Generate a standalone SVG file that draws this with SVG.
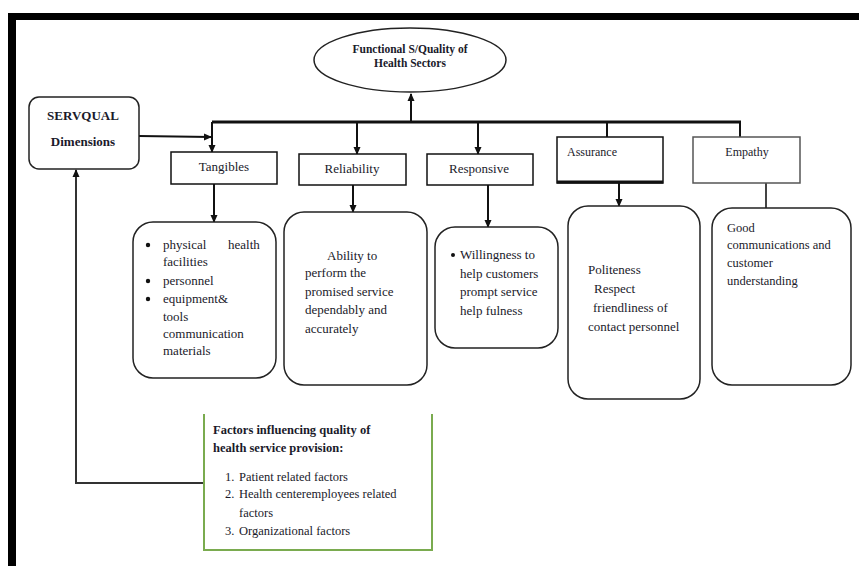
<svg xmlns="http://www.w3.org/2000/svg" width="859" height="566" viewBox="0 0 859 566">
<style>
text{font-family:"Liberation Serif","Times New Roman",serif;fill:#1a1a2a;}
.b{font-weight:bold;}
.t13{font-size:13px;}
.t12{font-size:12px;}
.box{fill:#fff;stroke:#111;stroke-width:1.5;}
.rbox{fill:#fff;stroke:#222;stroke-width:1.5;}
.ln{fill:none;stroke:#111;stroke-width:2;}
.dot{fill:#111;}
</style>
<defs>
<marker id="ah" markerUnits="userSpaceOnUse" markerWidth="8" markerHeight="8" refX="7" refY="4" orient="auto">
<path d="M0,0.5 L8,4 L0,7.5 Z" fill="#111"/>
</marker>
</defs>
<rect x="0" y="0" width="859" height="566" fill="#fff"/>
<g id="frame">
<rect x="8" y="13" width="851" height="7" fill="#000"/>
<rect x="8" y="13" width="8" height="553" fill="#000"/>
</g>
<g id="connectors">
<line x1="212" y1="122" x2="741" y2="122" stroke="#111" stroke-width="3"/>
<line class="ln" x1="411" y1="122" x2="411" y2="94" marker-end="url(#ah)"/>
<line class="ln" x1="212" y1="122" x2="212" y2="152" marker-end="url(#ah)"/>
<line class="ln" x1="357" y1="122" x2="357" y2="154" marker-end="url(#ah)"/>
<line class="ln" x1="478" y1="122" x2="478" y2="154" marker-end="url(#ah)"/>
<line class="ln" x1="607" y1="122" x2="607" y2="137"/>
<line class="ln" x1="740" y1="122" x2="740" y2="137"/>
<line class="ln" x1="139" y1="136" x2="211" y2="137" marker-end="url(#ah)"/>
<line class="ln" x1="214" y1="184" x2="214" y2="222" marker-end="url(#ah)"/>
<line class="ln" x1="353" y1="185" x2="353" y2="212" marker-end="url(#ah)"/>
<line class="ln" x1="488" y1="185" x2="488" y2="227" marker-end="url(#ah)"/>
<line class="ln" x1="619" y1="183" x2="619" y2="206" marker-end="url(#ah)"/>
<line x1="766" y1="183" x2="766" y2="208" stroke="#444" stroke-width="2"/>
<polyline points="204,483 76,483 76,170" fill="none" stroke="#333" stroke-width="2" marker-end="url(#ah)"/>
</g>
<g id="functional">
<ellipse cx="410" cy="60" rx="96" ry="32" fill="#fff" stroke="#222" stroke-width="1.5"/>
<text class="b" font-size="11.5" x="410" y="53" text-anchor="middle">Functional S/Quality of</text>
<text class="b" font-size="11.5" x="410" y="67" text-anchor="middle">Health Sectors</text>
</g>
<g id="servqual">
<rect class="rbox" x="29" y="97" width="110" height="72" rx="10"/>
<text class="b t13" x="83" y="120" text-anchor="middle">SERVQUAL</text>
<text class="b t13" x="83" y="146" text-anchor="middle">Dimensions</text>
</g>
<g id="tangibles">
<rect class="box" x="171" y="152" width="106" height="32"/>
<text class="t13" x="224" y="171" text-anchor="middle">Tangibles</text>
</g>
<g id="reliability">
<rect class="box" x="299" y="154" width="107" height="31"/>
<text class="t13" x="352" y="173" text-anchor="middle">Reliability</text>
</g>
<g id="responsive">
<rect class="box" x="427" y="154" width="106" height="31"/>
<text class="t13" x="479" y="173" text-anchor="middle">Responsive</text>
</g>
<g id="assurance">
<rect class="box" x="557" y="137" width="106" height="46"/>
<line x1="557" y1="182" x2="663" y2="182" stroke="#111" stroke-width="3"/>
<text class="t12" x="567" y="156">Assurance</text>
</g>
<g id="empathy">
<rect x="693" y="137" width="107" height="46" fill="#fff" stroke="#555" stroke-width="1.5"/>
<text class="t12" x="747" y="156" text-anchor="middle">Empathy</text>
</g>
<g id="tangibles-detail">
<rect class="rbox" x="133" y="222" width="143" height="156" rx="20"/>
<circle class="dot" cx="148" cy="245" r="2.2"/>
<text class="t13" x="163" y="249">physical</text>
<text class="t13" x="228" y="249">health</text>
<text class="t13" x="163" y="266">facilities</text>
<circle class="dot" cx="148" cy="281" r="2.2"/>
<text class="t13" x="163" y="285">personnel</text>
<circle class="dot" cx="148" cy="299" r="2.2"/>
<text class="t13" x="163" y="303">equipment&amp;</text>
<text class="t13" x="163" y="321">tools</text>
<text class="t13" x="163" y="338">communication</text>
<text class="t13" x="163" y="355">materials</text>
</g>
<g id="reliability-detail">
<rect class="rbox" x="284" y="212" width="143" height="173" rx="20"/>
<text class="t13" x="327" y="260">Ability to</text>
<text class="t13" x="305" y="277">perform the</text>
<text class="t13" x="305" y="296">promised service</text>
<text class="t13" x="305" y="314">dependably and</text>
<text class="t13" x="305" y="333">accurately</text>
</g>
<g id="responsive-detail">
<rect class="rbox" x="435" y="227" width="123" height="121" rx="20"/>
<circle class="dot" cx="453" cy="255" r="2"/>
<text class="t13" x="460" y="259">Willingness to</text>
<text class="t13" x="460" y="278">help customers</text>
<text class="t13" x="460" y="296">prompt service</text>
<text class="t13" x="460" y="315">help fulness</text>
</g>
<g id="assurance-detail">
<rect class="rbox" x="568" y="206" width="132" height="193" rx="20"/>
<text class="t13" x="588" y="274">Politeness</text>
<text class="t13" x="594" y="293">Respect</text>
<text class="t13" x="593" y="312">friendliness of</text>
<text class="t13" x="588" y="331">contact personnel</text>
</g>
<g id="empathy-detail">
<rect class="rbox" x="712" y="208" width="139" height="177" rx="20"/>
<text font-size="12.5" x="727" y="232">Good</text>
<text font-size="12.5" x="727" y="249">communications and</text>
<text font-size="12.5" x="727" y="267">customer</text>
<text font-size="12.5" x="727" y="285">understanding</text>
</g>
<g id="factors">
<rect x="204" y="414" width="228" height="136" fill="#fff" stroke="none"/>
<polyline points="204,414 204,550 432,550 432,414" fill="none" stroke="#7aab4f" stroke-width="2"/>
<text class="b" font-size="12.5" x="213" y="434">Factors influencing quality of</text>
<text class="b" font-size="12.5" x="213" y="452">health service provision:</text>
<text font-size="12.5" x="225" y="481">1.</text>
<text font-size="12.5" x="239" y="481">Patient related factors</text>
<text font-size="12.5" x="225" y="498">2.</text>
<text font-size="12.5" x="239" y="498">Health centeremployees related</text>
<text font-size="12.5" x="239" y="517">factors</text>
<text font-size="12.5" x="225" y="535">3.</text>
<text font-size="12.5" x="239" y="535">Organizational factors</text>
</g>
</svg>
